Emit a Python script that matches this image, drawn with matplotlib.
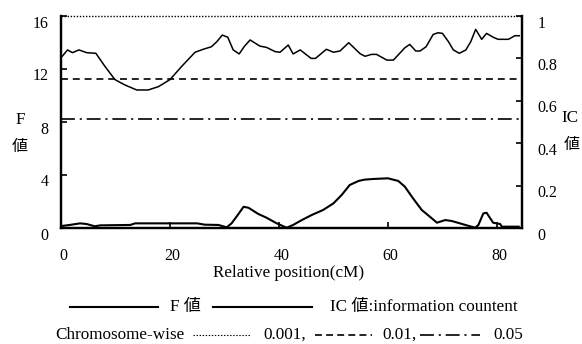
import matplotlib
matplotlib.use("Agg")
import matplotlib.pyplot as plt
import matplotlib.transforms as mtransforms
from matplotlib.lines import Line2D

plt.rcParams['font.family'] = ['Liberation Serif', 'Noto Sans CJK JP']
plt.rcParams['lines.scale_dashes'] = False

# IC value (information content) along the chromosome, right axis
ic_pos = [0.1, 1.2, 2.1, 3.3, 4.7, 6.4, 8.1, 9.9, 11.7, 13.9, 16.0, 17.9, 20.0,
          22.1, 24.6, 26.1, 27.6, 28.6, 29.6, 30.6, 31.6, 32.7, 33.6, 34.7,
          36.5, 37.7, 39.3, 40.2, 41.7, 42.6, 43.9, 45.9, 46.7, 48.7, 50.0,
          51.2, 52.8, 54.9, 55.8, 57.0, 57.9, 59.8, 61.0, 63.1, 64.0, 65.1,
          65.9, 67.0, 68.3, 69.2, 70.0, 71.1, 72.0, 73.1, 74.3, 75.2, 76.1,
          77.2, 78.1, 79.3, 80.2, 82.1, 83.3, 84.1]
ic_val = [0.806, 0.84, 0.827, 0.84, 0.827, 0.824, 0.761, 0.70, 0.675, 0.651,
          0.651, 0.667, 0.70, 0.761, 0.829, 0.843, 0.855, 0.879, 0.91, 0.90,
          0.84, 0.821, 0.855, 0.887, 0.858, 0.852, 0.832, 0.829, 0.863, 0.821,
          0.84, 0.80, 0.80, 0.843, 0.829, 0.835, 0.874, 0.822, 0.81, 0.819,
          0.819, 0.792, 0.792, 0.85, 0.866, 0.835, 0.835, 0.855, 0.913, 0.921,
          0.918, 0.879, 0.84, 0.824, 0.84, 0.879, 0.937, 0.89, 0.918, 0.90,
          0.89, 0.89, 0.907, 0.907]

# F value, left axis
f_pos = [0.1, 1.6, 3.5, 4.7, 6.2, 7.2, 12.7, 13.6, 25.0, 26.4, 28.9, 30.4,
         31.3, 32.2, 33.5, 34.4, 36.2, 37.7, 39.6, 41.4, 42.6, 44.2, 46.0,
         48.1, 50.0, 51.5, 53.0, 54.6, 55.7, 57.3, 60.0, 61.9, 63.1, 64.6,
         66.2, 67.7, 69.0, 70.5, 71.7, 73.8, 76.0, 76.6, 77.5, 78.1, 79.3,
         80.6, 80.9, 84.0]
f_val = [0.15, 0.23, 0.35, 0.3, 0.13, 0.2, 0.23, 0.35, 0.35, 0.25, 0.23, 0.05,
         0.35, 0.85, 1.6, 1.53, 1.06, 0.78, 0.35, 0.02, 0.23, 0.6, 0.98, 1.36,
         1.86, 2.49, 3.25, 3.55, 3.65, 3.70, 3.75, 3.55, 3.12, 2.24, 1.36,
         0.85, 0.40, 0.6, 0.53, 0.28, 0.02, 0.23, 1.1, 1.15, 0.40, 0.3, 0.1, 0.1]

# chromosome-wise thresholds (F scale)
thr_001 = 16
thr_01 = 11.25
thr_05 = 8.2

x_ticks = [0, 20, 40, 60, 80]
f_ticks = [0, 4, 8, 12, 16]
ic_ticks = [0, 0.2, 0.4, 0.6, 0.8, 1]
ic_labels = ['0', '0.2', '0.4', '0.6', '0.8', '1']

W, H = 582, 344
fs = 11.5    # numbers
fw = 12.3    # words


def px(x, y):
    return x / W, 1 - y / H


fig = plt.figure(figsize=(W / 100, H / 100), dpi=100)
ax = fig.add_axes([61 / W, 1 - 228 / H, (522 - 61) / W, (228 - 16) / H])
ax2 = ax.twinx()

dotted = (0, (1, 1.2))
dashed = (0, (5, 3.5))
dashdot = (0, (10, 3.5, 1.5, 3.5))

ax.plot(f_pos, f_val, color='black', lw=1.5)
ax2.plot(ic_pos, ic_val, color='black', lw=1.1)
ax.axhline(thr_001, color='black', lw=1.0, ls=dotted, clip_on=False)
ax.axhline(thr_01, color='black', lw=1.2, ls=dashed)
ax.axhline(thr_05, color='black', lw=1.2, ls=dashdot)

ax.set_xlim(0, 84.6)
ax.set_ylim(0, 16)
ax2.set_ylim(0, 1)
ax.set_xticks(x_ticks)
ax.set_yticks(f_ticks)
ax2.set_yticks(ic_ticks)
ax2.set_yticklabels(ic_labels)

for a in (ax, ax2):
    a.spines['top'].set_visible(False)
    for s in ('left', 'right', 'bottom'):
        a.spines[s].set_linewidth(1.6)
ax.tick_params(axis='both', direction='in', length=4, width=1.2, labelsize=fs)
ax.tick_params(axis='y', pad=9)
ax.tick_params(axis='x', pad=14.5)
ax2.tick_params(axis='y', direction='in', length=4, width=1.2, labelsize=fs, pad=11)

down = mtransforms.ScaledTranslation(0, -5.5 / 100, fig.dpi_scale_trans)
for lab in ax.get_yticklabels() + ax2.get_yticklabels():
    lab.set_transform(lab.get_transform() + down)
right = mtransforms.ScaledTranslation(2.5 / 100, 0, fig.dpi_scale_trans)
for lab in ax.get_xticklabels():
    lab.set_transform(lab.get_transform() + right)

fig.text(*px(289, 273), 'Relative position(cM)', ha='center', va='center', fontsize=fw)
fig.text(*px(20, 120), 'F', ha='center', va='center', fontsize=fw)
fig.text(*px(20, 147), '値', ha='center', va='center', fontsize=fs)
fig.text(*px(570, 118), 'IC', ha='center', va='center', fontsize=fw)
fig.text(*px(572, 145), '値', ha='center', va='center', fontsize=fs)

# legend, drawn by hand
def leg_line(x0, x1, y, ls, lw):
    xa, ya = px(x0, y)
    xb, _ = px(x1, y)
    fig.add_artist(Line2D([xa, xb], [ya, ya], transform=fig.transFigure,
                          color='black', lw=lw, ls=ls))

leg_line(70, 158, 307, '-', 1.5)
fig.text(*px(170, 307), 'F 値', ha='left', va='center', fontsize=fw)
leg_line(213, 312, 307, '-', 1.5)
fig.text(*px(330, 307), 'IC 値:information countent', ha='left', va='center', fontsize=fw)

fig.text(*px(55, 335), 'Chromosome-wise', ha='left', va='center', fontsize=fw)
leg_line(193, 250, 335, dotted, 0.8)
fig.text(*px(263, 335), '0.001,', ha='left', va='center', fontsize=fw)
leg_line(315, 372, 335, (0, (5, 3)), 1.2)
fig.text(*px(382, 335), '0.01,', ha='left', va='center', fontsize=fw)
leg_line(420, 480, 335, (0, (10, 3.5, 1.5, 3.5)), 1.2)
fig.text(*px(493, 335), '0.05', ha='left', va='center', fontsize=fw)

fig.savefig('out.png', dpi=100)
